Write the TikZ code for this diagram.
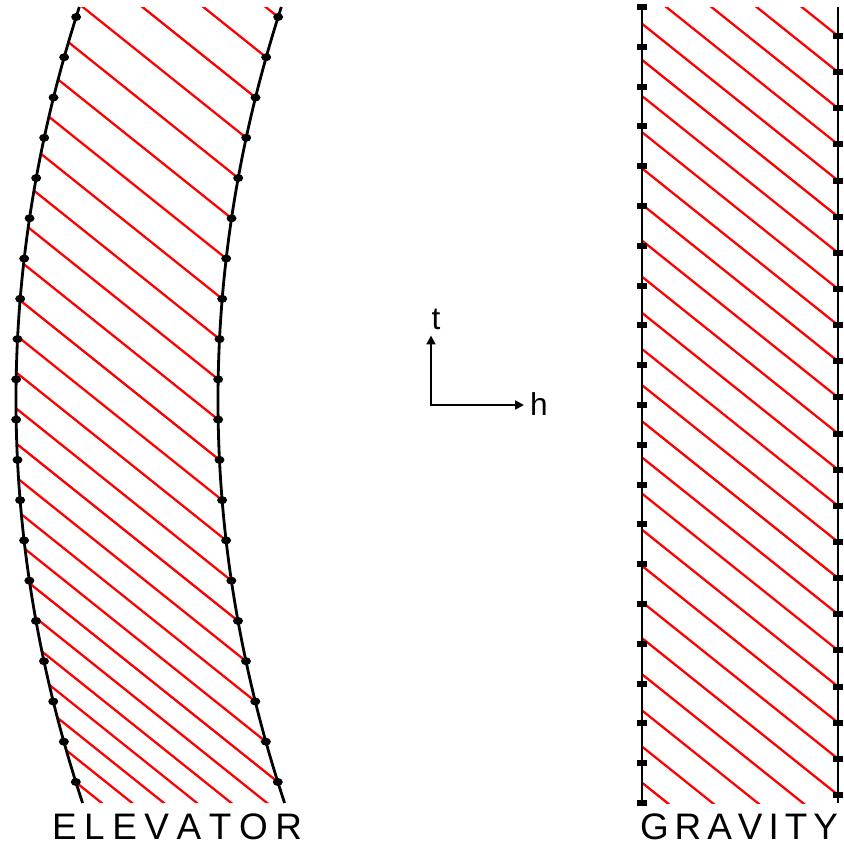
\documentclass[tikz,border=0pt]{standalone}
\usepackage{fontspec}
\newfontfamily\labelfont{Liberation Sans}
\usetikzlibrary{arrows.meta}

\begin{document}
\begin{tikzpicture}[
  x=0.02cm,y=-0.02cm,
  worldline/.style={line width=1.6pt, draw=black},
  ray/.style={line width=1.3pt, draw=red},
  clockdot/.style={fill=black},
  axis/.style={<->, >={Triangle[length=5pt,width=5pt]}, line width=1.4pt},
  caption/.style={font=\labelfont\fontsize{21}{21}\selectfont, inner sep=0pt, anchor=base},
  axislabel/.style={font=\labelfont\fontsize{18}{18}\selectfont}
]
\useasboundingbox (0,0) rectangle (843,845);

% elevator
\begin{scope}
  \clip plot[variable=\t, domain=7:803, samples=60] ({16+(0.02025*(\t-400))^2},\t)
    -- plot[variable=\t, domain=803:7, samples=60] ({218+(0.02025*(\t-400))^2},\t) -- cycle;
  \foreach \k in {0,...,25} {
    \pgfmathsetmacro{\yk}{17+40.26*\k}
    \pgfmathsetmacro{\xk}{218+(0.02025*(\yk-400))^2}
    \draw[ray] (\xk,\yk) -- ++(-400,-320);
  }
\end{scope}
\draw[worldline] plot[variable=\t, domain=7:803, samples=60, smooth] ({16+(0.02025*(\t-400))^2},\t);
\draw[worldline] plot[variable=\t, domain=7:803, samples=60, smooth] ({218+(0.02025*(\t-400))^2},\t);
\foreach \k in {0,...,19} {
  \pgfmathsetmacro{\yk}{17+40.26*\k}
  \pgfmathsetmacro{\xl}{16+(0.02025*(\yk-400))^2}
  \fill[clockdot] (\xl,\yk) ellipse [x radius=5, y radius=4];
  \fill[clockdot] (\xl+202,\yk) ellipse [x radius=5, y radius=4];
}

% gravity
\begin{scope}
  \clip (642,7) rectangle (838,803);
  \foreach \k in {0,...,26} {
    \pgfmathsetmacro{\yk}{36+36.14*\k}
    \draw[ray] (838,\yk) -- ++(-400,-320);
  }
\end{scope}
\draw[worldline] (642,7) -- (642,802);
\draw[worldline] (838,7) -- (838,803);
\foreach \k in {0,...,20} {
  \fill[clockdot] (642,7+39.8*\k) ++(-5,-3) rectangle ++(10,6);
}
\foreach \k in {0,...,21} {
  \fill[clockdot] (838,36+36.14*\k) ++(-5,-3) rectangle ++(10,6);
}

% axes
\coordinate (origin) at (431,405);
\node[axislabel] (tlabel) at (436,319) {t};
\node[axislabel] (hlabel) at (539,404) {h};
\draw[axis] (origin |- tlabel.south) -- (origin) -- (hlabel.west |- origin);

\node[caption] (elevator) at (177,839)
  {\makebox[5cm]{E\hfill L\hfill E\hfill V\hfill A\hfill T\hfill O\hfill R}};
\node[caption] (gravity) at (739,839)
  {\makebox[3.96cm]{G\hfill R\hfill A\hfill V\hfill I\hfill T\hfill Y}};
\end{tikzpicture}
\end{document}
